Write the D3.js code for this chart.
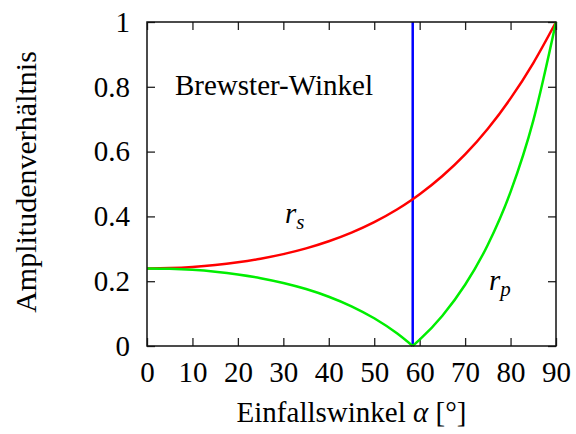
<!DOCTYPE html>
<meta charset="utf-8">
<style>
body { margin: 0; background: #fff; }
svg text { font-family: "Liberation Serif", "Times New Roman", serif; fill: #000; }
.curve { fill: none; stroke-width: 2.5px; }
</style>
<svg width="576" height="434"></svg>
<script src="https://d3js.org/d3.v7.min.js"></script>
<script>
// Einfallswinkel in Grad
var angles = [0, 5, 10, 15, 20, 25, 30, 35, 40, 45, 50, 55, 58.47, 60, 65, 70, 75, 80, 85, 90];
// Amplitudenverhaeltnis (Betrag)
var rs = [0.2395, 0.2407, 0.2441, 0.2498, 0.2582, 0.2693, 0.2835, 0.3013, 0.3233, 0.3500,
          0.3824, 0.4214, 0.4531, 0.4683, 0.5245, 0.5913, 0.6707, 0.7642, 0.8734, 1.0];
var rp = [0.2395, 0.2384, 0.2350, 0.2292, 0.2208, 0.2094, 0.1946, 0.1758, 0.1521, 0.1225,
          0.0855, 0.0391, 0.0, 0.0194, 0.0936, 0.1889, 0.3126, 0.4758, 0.6957, 1.0];
var brewster = 58.47;
var xTicks = [0, 10, 20, 30, 40, 50, 60, 70, 80, 90];
var yTicks = [0, 0.2, 0.4, 0.6, 0.8, 1];

var font = "'Liberation Serif', 'Times New Roman', serif";

var svg = d3.select("svg"),
    margin = {top: 22, right: 20, bottom: 88, left: 147},
    width = 576 - margin.left - margin.right,
    height = 434 - margin.top - margin.bottom,
    g = svg.append("g").attr("transform", "translate(" + margin.left + "," + margin.top + ")");

var x = d3.scaleLinear().domain([0, 90]).range([0, width]),
    y = d3.scaleLinear().domain([0, 1]).range([height, 0]);

var fmtY = function(d) { return d === 0 ? "0" : d === 1 ? "1" : d3.format(".1f")(d); };

function ticks(axis, cls) {
  var a = g.append("g").attr("class", cls).call(axis)
      .attr("font-family", font).attr("font-size", 29);
  a.select(".domain").remove();
  a.selectAll("line").attr("stroke", "#222").attr("stroke-width", 1.3);
  a.selectAll("text").style("font-family", font).style("font-size", "29px");
  return a;
}

ticks(d3.axisBottom(x).tickValues(xTicks).tickSize(-8).tickPadding(15), "axis--x")
    .attr("transform", "translate(0," + height + ")");
ticks(d3.axisLeft(y).tickValues(yTicks).tickFormat(fmtY).tickSize(-8).tickPadding(17), "axis--y");
ticks(d3.axisTop(x).tickValues(xTicks).tickSize(-8).tickFormat(""), "axis--x2");
ticks(d3.axisRight(y).tickValues(yTicks).tickSize(-8).tickFormat(""), "axis--y2")
    .attr("transform", "translate(" + width + ",0)");

var line = d3.line()
    .curve(d3.curveMonotoneX)
    .x(function(d) { return x(d[0]); })
    .y(function(d) { return y(d[1]); });

var sData = angles.map(function(a, i) { return [a, rs[i]]; });
var pData = angles.map(function(a, i) { return [a, rp[i]]; });
var bi = angles.indexOf(brewster);

g.append("line")
    .attr("x1", x(brewster)).attr("x2", x(brewster))
    .attr("y1", 0).attr("y2", height)
    .attr("stroke", "#0000ff").attr("stroke-width", 2.5);

g.append("path").attr("class", "curve").attr("stroke", "#ff0000").attr("d", line(sData));
g.append("path").attr("class", "curve").attr("stroke", "#00ee00").attr("d", line(pData.slice(0, bi + 1)));
g.append("path").attr("class", "curve").attr("stroke", "#00ee00").attr("d", line(pData.slice(bi)));

g.append("rect")
    .attr("width", width).attr("height", height)
    .attr("fill", "none").attr("stroke", "#111").attr("stroke-width", 1.5);

// Beschriftungen
g.append("text").attr("x", 28).attr("y", 73).style("font-size", "29px").text("Brewster-Winkel");

var ts = g.append("text").attr("x", 138).attr("y", 201).style("font-size", "29px").style("font-style", "italic");
ts.append("tspan").text("r");
ts.append("tspan").attr("dy", 6).style("font-size", "21px").text("s");

var tp = g.append("text").attr("x", 342).attr("y", 268).style("font-size", "29px").style("font-style", "italic");
tp.append("tspan").text("r");
tp.append("tspan").attr("dy", 6).style("font-size", "21px").text("p");

var xl = svg.append("text")
    .attr("x", margin.left + width / 2).attr("y", 422)
    .attr("text-anchor", "middle").style("font-size", "29px");
xl.append("tspan").text("Einfallswinkel ");
xl.append("tspan").style("font-style", "italic").text("α");
xl.append("tspan").text(" [°]");

svg.append("text")
    .attr("transform", "translate(36," + 182 + ") rotate(-90)")
    .attr("text-anchor", "middle").style("font-size", "30px")
    .text("Amplitudenverhältnis");
</script>
